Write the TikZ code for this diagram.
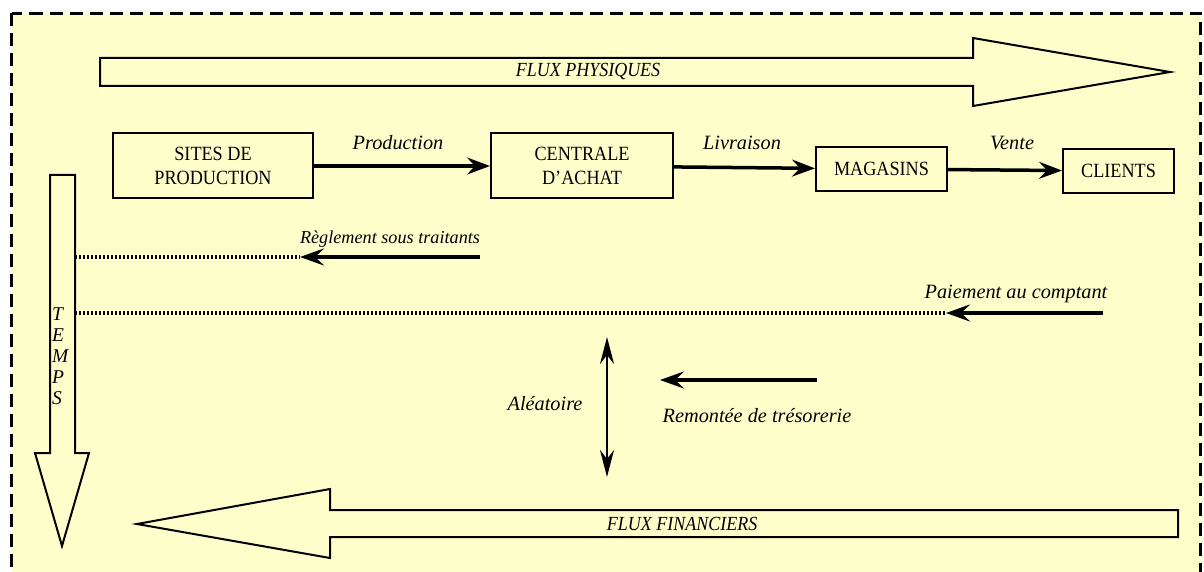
\documentclass[tikz,border=0pt]{standalone}
\usepackage{fontspec}
\setmainfont{Liberation Serif}
\newfontfamily\tallserif{Liberation Serif}[FakeStretch=0.9]
\usetikzlibrary{arrows.meta}
\definecolor{bgyellow}{HTML}{FFFFCC}
\begin{document}
\begin{tikzpicture}[x=1pt,y=-1pt,
  font=\fontsize{18}{24}\selectfont,
  bigarrow/.style={draw=black, line width=2pt, fill=bgyellow, line join=miter},
  boxnode/.style={draw=black, line width=2pt, fill=bgyellow, inner sep=0pt, align=center, font=\tallserif\fontsize{20.2}{24}\selectfont},
  flowarrow/.style={line width=3.5pt, -{Stealth[length=23pt,width=17pt,inset=8pt]}},
  payarrow/.style={line width=4pt, -{Stealth[length=24pt,width=17pt,inset=9pt]}},
  dotline/.style={line width=3.5pt, dash pattern=on 2.4pt off 1.6pt},
  lbl/.style={font=\fontsize{20.3}{24}\selectfont\itshape, inner sep=0pt},
  flbl/.style={font=\tallserif\fontsize{20}{22}\selectfont\itshape, inner sep=0pt},
]
\clip (0,0) rectangle (1204,572);
\useasboundingbox (0,0) rectangle (1204,572);
\fill[white] (0,0) rectangle (1204,572);
\draw[fill=bgyellow, line width=3.5pt, dash pattern=on 13pt off 7pt] (11.5,13.5) rectangle (1200.5,620);

% FLUX PHYSIQUES
\draw[bigarrow] (100,58) -- (973,58) -- (973,38) -- (1170,72) -- (973,106) -- (973,86) -- (100,86) -- cycle;
\node[flbl] (fp) at (588,72) {FLUX PHYSIQUES};

% FLUX FINANCIERS
\draw[bigarrow] (1178,510) -- (330,510) -- (330,489) -- (137,524) -- (330,558) -- (330,537) -- (1178,537) -- cycle;
\node[flbl] (ff) at (682,523.5) {FLUX FINANCIERS};

% TEMPS
\draw[bigarrow] (50,175) -- (75,175) -- (75,453) -- (89,453) -- (62,546) -- (35,453) -- (50,453) -- cycle;
\node[anchor=west, align=left, inner sep=0pt, font=\fontsize{19.5}{21}\selectfont\itshape] (temps) at (52,356) {T\\E\\M\\P\\S};

% boxes
\node[boxnode, minimum width=200pt, minimum height=65pt] (sites) at (213,166) {SITES DE\\PRODUCTION};
\node[boxnode, minimum width=182pt, minimum height=65pt] (centrale) at (582,166) {CENTRALE\\D’ACHAT};
\node[boxnode, minimum width=131pt, minimum height=44pt] (magasins) at (881.5,169) {MAGASINS};
\node[boxnode, minimum width=111pt, minimum height=44pt] (clients) at (1118.5,171) {CLIENTS};

\draw[flowarrow] (sites) -- (centrale);
\draw[flowarrow] (centrale) -- (magasins);
\draw[flowarrow] (magasins) -- (clients);
\node[lbl] (lprod) at (398,143) {Production};
\node[lbl] (lliv) at (742,143) {Livraison};
\node[lbl] (lvente) at (1012,143) {Vente};

% Reglement
\coordinate (rt) at (75,257);
\coordinate (rh) at (300,257);
\coordinate (rs) at (480,257);
\draw[dotline] (rt) -- (rh);
\draw[payarrow] (rs) -- (rh);
\node[lbl, font=\fontsize{18.2}{20}\selectfont\itshape] (lregl) at (390,239) {Règlement sous traitants};

% Paiement
\coordinate (pt) at (75,313);
\coordinate (ph) at (946,313);
\coordinate (ps) at (1103,313);
\draw[dotline] (pt) -- (ph);
\draw[payarrow] (ps) -- (ph);
\node[lbl] (lpai) at (1016,294) {Paiement au comptant};

% Aleatoire
\coordinate (atop) at (607,337);
\coordinate (abot) at (607,477);
\draw[line width=2.5pt, {Stealth[length=27pt,width=14pt,inset=9pt]}-{Stealth[length=27pt,width=14pt,inset=9pt]}] (atop) -- (abot);
\node[lbl] (lalea) at (545,404) {Aléatoire};

% Remontee
\coordinate (rms) at (817,380);
\coordinate (rmh) at (660,380);
\draw[payarrow] (rms) -- (rmh);
\node[lbl] (lrem) at (757,416) {Remontée de trésorerie};
\end{tikzpicture}
\end{document}
